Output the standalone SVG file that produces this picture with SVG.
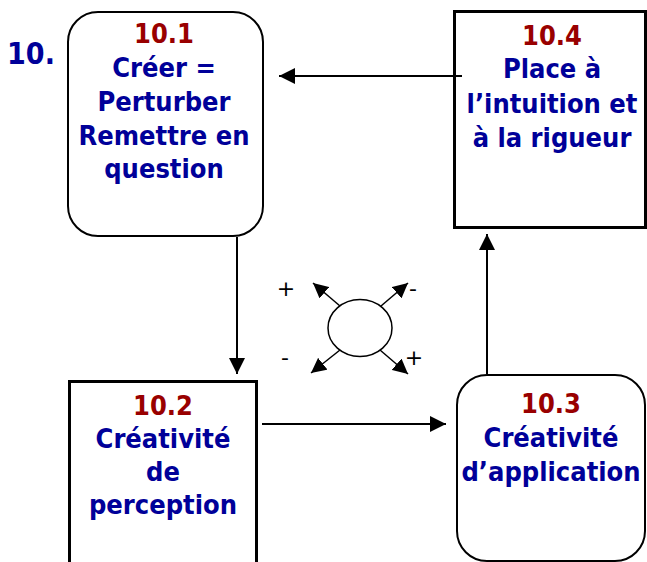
<svg xmlns="http://www.w3.org/2000/svg" width="647" height="562" viewBox="0 0 647 562">
<defs>
<marker id="ah" viewBox="0 0 10 10" refX="10" refY="5" markerWidth="15" markerHeight="15" markerUnits="userSpaceOnUse" orient="auto">
<path d="M0,0 L10,5 L0,10 Z" fill="#000"/>
</marker>
<marker id="ah2" viewBox="0 0 10 10" refX="10" refY="5" markerWidth="16" markerHeight="16" markerUnits="userSpaceOnUse" orient="auto">
<path d="M0,0 L10,5 L0,10 Z" fill="#000"/>
</marker>
</defs>
<text id="title" x="31" y="64" font-family="DejaVu Sans Condensed, DejaVu Sans, sans-serif" font-weight="bold" font-size="30" fill="#000099" text-anchor="middle">10.</text>
<g id="n101" font-family="DejaVu Sans Condensed, DejaVu Sans, sans-serif" font-weight="bold" font-size="27" text-anchor="middle" fill="#000099">
<rect x="68" y="12" width="195" height="224" rx="30" ry="30" fill="#fff" stroke="#000" stroke-width="2"/>
<text x="164" y="43" fill="#990000">10.1</text>
<text x="164" y="77">Créer =</text>
<text x="164" y="111">Perturber</text>
<text x="164" y="145">Remettre en</text>
<text x="164" y="178">question</text>
</g>
<g id="n104" font-family="DejaVu Sans Condensed, DejaVu Sans, sans-serif" font-weight="bold" font-size="27" text-anchor="middle" fill="#000099">
<rect x="454.5" y="11.5" width="191" height="216" fill="#fff" stroke="#000" stroke-width="3"/>
<text x="552" y="45" fill="#990000">10.4</text>
<text x="552" y="78">Place à</text>
<text x="552" y="113">l’intuition et</text>
<text x="552" y="147">à la rigueur</text>
</g>
<g id="n102" font-family="DejaVu Sans Condensed, DejaVu Sans, sans-serif" font-weight="bold" font-size="27" text-anchor="middle" fill="#000099">
<rect x="69.5" y="381.5" width="187" height="190" fill="#fff" stroke="#000" stroke-width="3"/>
<text x="163" y="415" fill="#990000">10.2</text>
<text x="163" y="448">Créativité</text>
<text x="163" y="481">de</text>
<text x="163" y="514">perception</text>
</g>
<g id="n103" font-family="DejaVu Sans Condensed, DejaVu Sans, sans-serif" font-weight="bold" font-size="27" text-anchor="middle" fill="#000099">
<rect x="457" y="375" width="188" height="186" rx="30" ry="30" fill="#fff" stroke="#000" stroke-width="2"/>
<text x="551" y="413" fill="#990000">10.3</text>
<text x="551" y="447">Créativité</text>
<text x="551" y="481">d’application</text>
</g>
<g id="connectors" stroke="#000" stroke-width="2" fill="none">
<line x1="462" y1="76" x2="279" y2="76" marker-end="url(#ah2)"/>
<line x1="237" y1="237" x2="237" y2="374" marker-end="url(#ah2)"/>
<line x1="262" y1="424" x2="446" y2="424" marker-end="url(#ah2)"/>
<line x1="487" y1="374" x2="487" y2="234" marker-end="url(#ah2)"/>
</g>
<g id="hub">
<ellipse cx="360" cy="328" rx="32" ry="28.5" fill="#fff" stroke="#000" stroke-width="1.5"/>
<g stroke="#000" stroke-width="1.5">
<line x1="340" y1="306" x2="313" y2="283" marker-end="url(#ah)"/>
<line x1="381" y1="306" x2="408" y2="283" marker-end="url(#ah)"/>
<line x1="340" y1="350" x2="311" y2="373" marker-end="url(#ah)"/>
<line x1="380" y1="350" x2="408" y2="374" marker-end="url(#ah)"/>
</g>
<g font-family="DejaVu Sans, sans-serif" font-size="22" fill="#000000" text-anchor="middle">
<text x="286" y="296">+</text>
<text x="413" y="296">-</text>
<text x="285" y="365">-</text>
<text x="414" y="365">+</text>
</g>
</g>
</svg>
